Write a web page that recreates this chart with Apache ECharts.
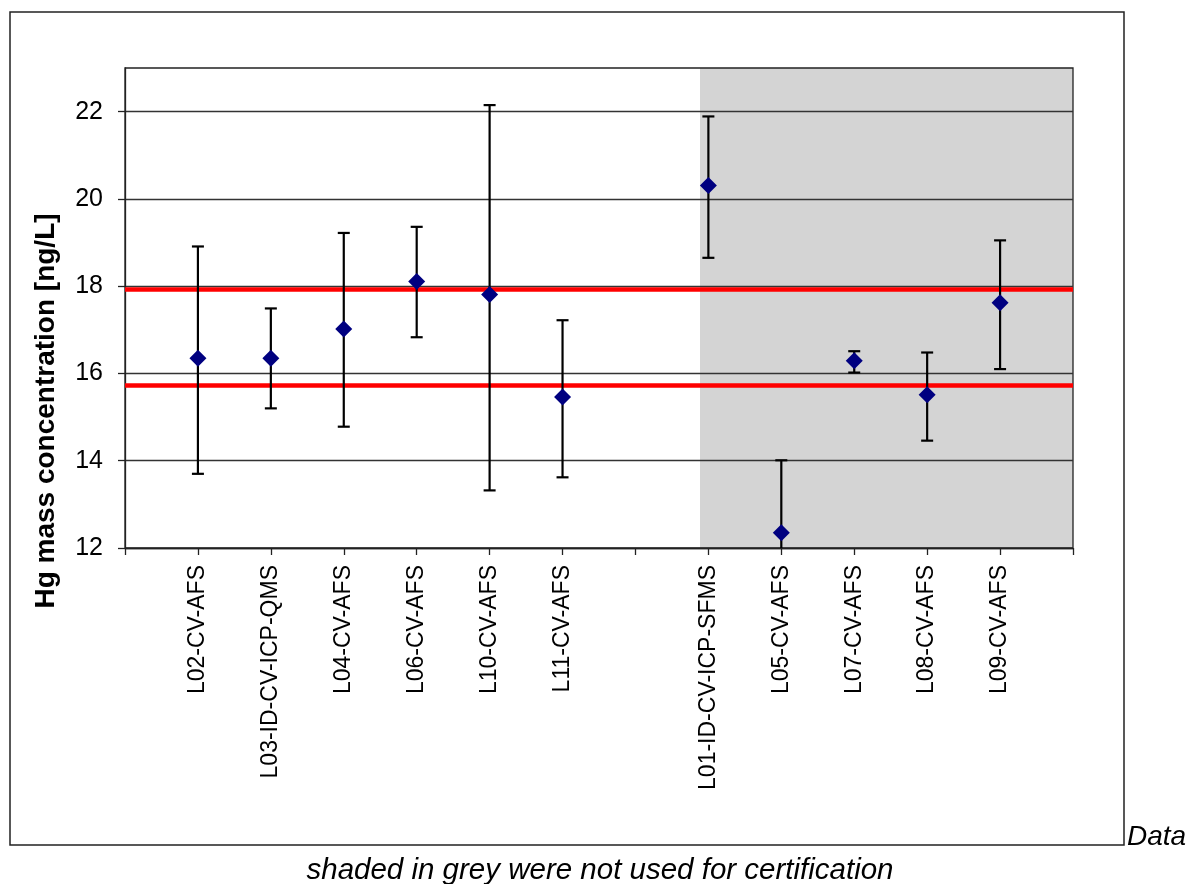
<!DOCTYPE html>
<html>
<head>
<meta charset="utf-8">
<script src="https://cdn.jsdelivr.net/npm/echarts@6/dist/echarts.min.js"></script>
<style>
  html, body {margin: 0; padding: 0; background: #fff;}
  #chart {width: 1192px; height: 884px;}
</style>
</head>
<body>
<div id="chart"></div>
<script>
// x slots 0..13, empty slots at 0, 7 and 13
var categories = ['', 'L02-CV-AFS', 'L03-ID-CV-ICP-QMS', 'L04-CV-AFS', 'L06-CV-AFS', 'L10-CV-AFS', 'L11-CV-AFS', '',
  'L01-ID-CV-ICP-SFMS', 'L05-CV-AFS', 'L07-CV-AFS', 'L08-CV-AFS', 'L09-CV-AFS', ''];
var labPos = [1, 2, 3, 4, 5, 6, 8, 9, 10, 11, 12];
var means = [16.35, 16.35, 17.02, 18.11, 17.81, 15.46, 20.31, 12.35, 16.29, 15.51, 17.62];
var lows = [13.70, 15.20, 14.78, 16.83, 13.32, 13.62, 18.65, 10.69, 16.02, 14.46, 16.10];
var highs = [18.91, 17.49, 19.22, 19.36, 22.15, 17.22, 21.89, 14.01, 16.51, 16.48, 19.05];
var refLines = [17.92, 15.74];   // red lines
var greyFrom = 7.885;            // start of grey shading (not used for certification)
var yTicks = [12, 14, 16, 18, 20, 22];

var font = "'Liberation Sans', Arial, sans-serif";

var pointData = labPos.map(function (x, i) { return [x, means[i]]; });
var barData = labPos.map(function (x, i) { return [x, lows[i], highs[i]]; });

var chart = echarts.init(document.getElementById('chart'));
chart.setOption({
  animation: false,
  grid: {
    left: 125, right: 119, top: 68, bottom: 336,
    show: true, borderColor: '#222', borderWidth: 1.3,
    backgroundColor: 'transparent', z: 3
  },
  xAxis: {
    type: 'value', min: 0, max: 13, interval: 1, z: 3,
    axisLine: {show: true, onZero: false, lineStyle: {color: '#222', width: 1.3}},
    axisTick: {show: true, length: 7, lineStyle: {color: '#222', width: 1.3}},
    splitLine: {show: false},
    axisLabel: {
      rotate: 90, margin: 17, color: '#000', fontSize: 23, fontFamily: font,
      formatter: function (v) { return categories[v] || ''; }
    }
  },
  yAxis: {
    type: 'value', min: 12, max: 23, interval: 2, z: 3,
    axisLine: {show: true, lineStyle: {color: '#222', width: 1.3}},
    axisTick: {show: true, length: 7, customValues: yTicks, lineStyle: {color: '#222', width: 1.3}},
    splitLine: {show: true, lineStyle: {color: '#333', width: 1.3}},
    axisLabel: {
      margin: 22, color: '#000', fontSize: 25, fontFamily: font, customValues: yTicks,
      formatter: function (v) { return yTicks.indexOf(v) >= 0 ? v : ''; }
    }
  },
  series: [
    {
      type: 'line', data: [], silent: true,
      markArea: {
        silent: true, z: 1,
        itemStyle: {color: '#d4d4d4'},
        data: [[{xAxis: greyFrom, yAxis: 12}, {xAxis: 13, yAxis: 23}]]
      },
      markLine: {
        silent: true, z: 4, symbol: ['none', 'none'], label: {show: false},
        lineStyle: {color: '#ff0000', width: 4.5, type: 'solid'},
        data: refLines.map(function (v) { return {yAxis: v}; })
      }
    },
    {
      type: 'custom', z: 5, clip: true, silent: true,
      data: barData,
      renderItem: function (params, api) {
        var lo = api.coord([api.value(0), api.value(1)]);
        var hi = api.coord([api.value(0), api.value(2)]);
        var hw = 6;
        var st = {stroke: '#000', lineWidth: 2.2};
        return {
          type: 'group',
          children: [
            {type: 'line', shape: {x1: lo[0], y1: lo[1], x2: hi[0], y2: hi[1]}, style: st},
            {type: 'line', shape: {x1: hi[0] - hw, y1: hi[1], x2: hi[0] + hw, y2: hi[1]}, style: st},
            {type: 'line', shape: {x1: lo[0] - hw, y1: lo[1], x2: lo[0] + hw, y2: lo[1]}, style: st}
          ]
        };
      }
    },
    {
      type: 'scatter', z: 6, symbol: 'diamond', symbolSize: 17,
      itemStyle: {color: '#000080', opacity: 1},
      data: pointData
    }
  ],
  graphic: [
    {
      type: 'rect', z: 10, silent: true,
      shape: {x: 10, y: 12, width: 1114, height: 833},
      style: {fill: 'none', stroke: '#222', lineWidth: 1.5}
    },
    {
      type: 'text', z: 10, x: 46, y: 411, rotation: Math.PI / 2,
      style: {
        text: 'Hg mass concentration [ng/L]', fill: '#000',
        font: 'bold 28px ' + font, align: 'center', verticalAlign: 'middle'
      }
    },
    {
      type: 'text', z: 10, x: 1127, y: 837,
      style: {
        text: 'Data', fill: '#000', font: 'italic 28px ' + font,
        align: 'left', verticalAlign: 'middle'
      }
    },
    {
      type: 'text', z: 10, x: 600, y: 871,
      style: {
        text: 'shaded in grey were not used for certification', fill: '#000',
        font: 'italic 29.5px ' + font, align: 'center', verticalAlign: 'middle'
      }
    }
  ]
});
</script>
</body>
</html>
